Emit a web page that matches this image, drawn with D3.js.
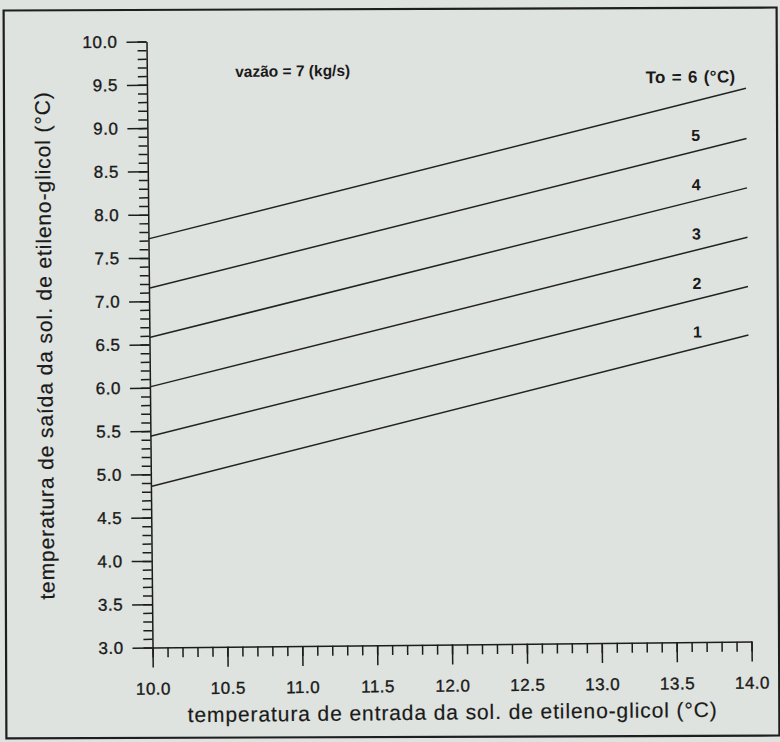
<html>
  <head>
    <style>
      body { margin: 0; background: #dfe3df; }
      svg { display: block; }
      .axis path, .axis line { stroke: #1c1c1c; stroke-width: 1.5px; }
      .axis text { font-family: "Liberation Sans", Arial, sans-serif; font-size: 17px; fill: #1a1a1a; stroke: #1a1a1a; stroke-width: 0.35px; letter-spacing: 0.5px; }
      .title { font-family: "Liberation Sans", Arial, sans-serif; font-size: 21px; fill: #1a1a1a; stroke: #1a1a1a; stroke-width: 0.2px; letter-spacing: 0.9px; }
      .note { font-family: "Liberation Sans", Arial, sans-serif; font-size: 15.5px; font-weight: bold; fill: #1a1a1a; }
      .num { font-size: 16px; }
      .to { font-size: 17px; word-spacing: 1px; letter-spacing: 0.3px; }
      .curve { fill: none; stroke: #222; stroke-width: 1.5px; }
    </style>
  </head>
  <body>
    <script src="https://d3js.org/d3.v7.min.js"></script>
    <script>
    // inlet temperature of the glycol solution (x) and outlet temperature (y) for each To
    var inletTemp = [10.0, 14.0];
    var outletTo6 = [7.72, 9.39];
    var outletTo5 = [7.15, 8.81];
    var outletTo4 = [6.58, 8.24];
    var outletTo3 = [6.01, 7.67];
    var outletTo2 = [5.44, 7.10];
    var outletTo1 = [4.86, 6.54];
    var curveLabels = ["To = 6 (°C)", "5", "4", "3", "2", "1"];

    var xTicks = [10.0, 10.5, 11.0, 11.5, 12.0, 12.5, 13.0, 13.5, 14.0];
    var xTickLabels = ["10.0", "10.5", "11.0", "11.5", "12.0", "12.5", "13.0", "13.5", "14.0"];
    var yTicks = [3.0, 3.5, 4.0, 4.5, 5.0, 5.5, 6.0, 6.5, 7.0, 7.5, 8.0, 8.5, 9.0, 9.5, 10.0];
    var yTickLabels = ["3.0", "3.5", "4.0", "4.5", "5.0", "5.5", "6.0", "6.5", "7.0", "7.5", "8.0", "8.5", "9.0", "9.5", "10.0"];

    var width = 780, height = 742;

    var svg = d3.select("body")
        .append("svg")
        .attr("width", width)
        .attr("height", height);

    svg.append("rect")
        .attr("width", width)
        .attr("height", height)
        .attr("fill", "#dfe3df");

    // page frame, tilted a bit less than the chart itself
    svg.append("g")
        .attr("transform", "rotate(-0.22,390,371)")
      .append("rect")
        .attr("x", 5).attr("y", 9)
        .attr("width", 773).attr("height", 728)
        .attr("fill", "none")
        .attr("stroke", "#1e1e1e")
        .attr("stroke-width", 2.2);

    // the scan is tilted a little, so the chart sits in one rotated group
    var g = svg.append("g").attr("transform", "rotate(-0.57,449,341.5)");

    var x = d3.scaleLinear().domain([10, 14]).range([149.5, 748.5]);
    var y = d3.scaleLinear().domain([3, 10]).range([644.5, 38.5]);

    var xMinor = d3.range(0, 41).map(function(i) { return 10 + i * 0.1; });
    var yMinor = d3.range(0, 71).map(function(i) { return 3 + i * 0.1; });

    g.append("g")
        .attr("class", "axis")
        .attr("transform", "translate(0," + y(3) + ")")
        .call(d3.axisBottom(x).tickValues(xMinor).tickSize(10).tickFormat(""))
        .call(function(a) { a.select(".domain").remove(); });

    g.append("g")
        .attr("class", "axis")
        .attr("transform", "translate(0," + y(3) + ")")
        .call(d3.axisBottom(x).tickValues(xTicks).tickSize(20).tickSizeOuter(0).tickPadding(15)
          .tickFormat(function(d, i) { return xTickLabels[i]; }));

    g.append("g")
        .attr("class", "axis")
        .attr("transform", "translate(" + x(10) + ",0)")
        .call(d3.axisLeft(y).tickValues(yMinor).tickSize(9).tickFormat(""))
        .call(function(a) { a.select(".domain").remove(); });

    g.append("g")
        .attr("class", "axis")
        .attr("transform", "translate(" + x(10) + ",0)")
        .call(d3.axisLeft(y).tickValues(yTicks).tickSize(20).tickSizeOuter(0).tickPadding(9)
          .tickFormat(function(d, i) { return yTickLabels[i]; }));

    g.selectAll(".axis").attr("font-family", null).attr("font-size", null);

    var series = [outletTo6, outletTo5, outletTo4, outletTo3, outletTo2, outletTo1];

    var line = d3.line()
        .x(function(d) { return x(d[0]); })
        .y(function(d) { return y(d[1]); });

    g.selectAll(".curve")
        .data(series)
        .enter().append("path")
          .attr("class", "curve")
          .attr("d", function(s) { return line(inletTemp.map(function(t, i) { return [t, s[i]]; })); });

    // value of a curve at a given inlet temperature
    function at(s, t) {
      return s[0] + (s[1] - s[0]) * (t - inletTemp[0]) / (inletTemp[1] - inletTemp[0]);
    }

    g.append("text")
        .attr("class", "note to")
        .attr("x", x(13.93))
        .attr("y", y(at(outletTo6, 13.93) + 0.1))
        .attr("text-anchor", "end")
        .text(curveLabels[0]);

    g.selectAll(".num")
        .data(series.slice(1))
        .enter().append("text")
          .attr("class", "note num")
          .attr("x", x(13.66))
          .attr("y", function(s) { return y(at(s, 13.66) + 0.12); })
          .attr("text-anchor", "middle")
          .text(function(s, i) { return curveLabels[i + 1]; });

    g.append("text")
        .attr("class", "note")
        .attr("x", x(10.59))
        .attr("y", y(9.58))
        .text("vazão = 7 (kg/s)");

    g.append("text")
        .attr("class", "title")
        .attr("x", (x(10) + x(14)) / 2)
        .attr("y", y(3) + 75)
        .attr("text-anchor", "middle")
        .text("temperatura de entrada da sol. de etileno-glicol (°C)");

    g.append("text")
        .attr("class", "title")
        .attr("transform", "translate(52," + (y(3) + y(10)) / 2 + ") rotate(-90)")
        .attr("text-anchor", "middle")
        .text("temperatura de saída da sol. de etileno-glicol (°C)");
    </script>
  </body>
</html>
